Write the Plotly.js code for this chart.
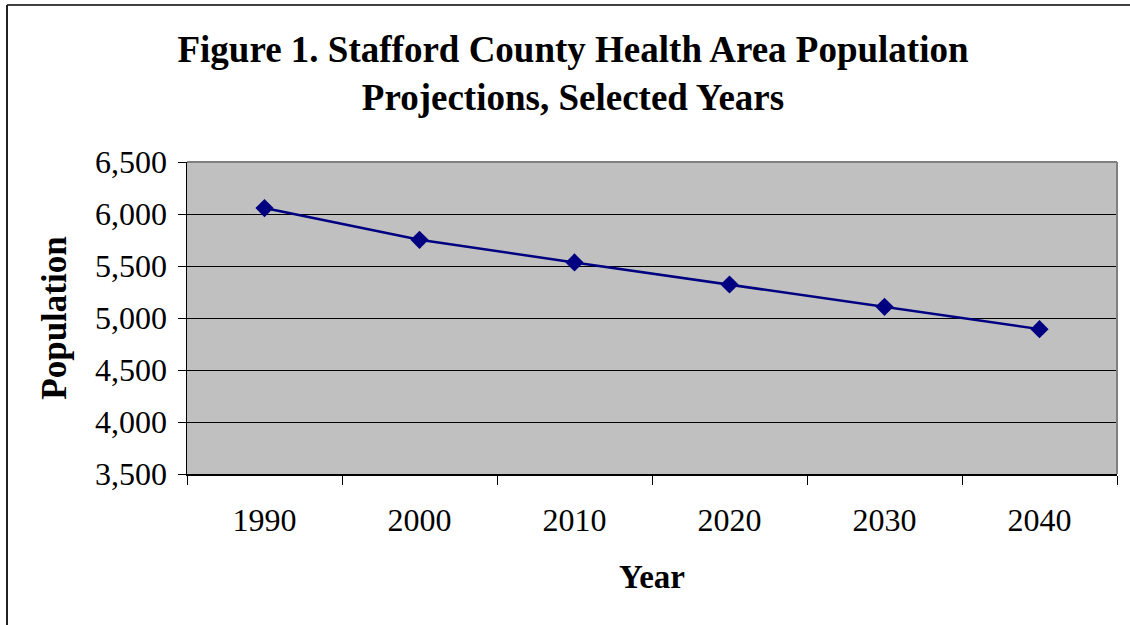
<!DOCTYPE html>
<html>
<head>
<meta charset="utf-8">
<script src="https://cdn.plot.ly/plotly-3.0.1.min.js"></script>
<style>
  html, body { margin: 0; padding: 0; background: #fff; }
  #chart { width: 1130px; height: 625px; }
</style>
</head>
<body>
<div id="chart"></div>
<script>
const years = ["1990", "2000", "2010", "2020", "2030", "2040"];
const population = [6057, 5752, 5534, 5322, 5107, 4893];
const yTickVals = [3500, 4000, 4500, 5000, 5500, 6000, 6500];
const yTickText = ["3,500", "4,000", "4,500", "5,000", "5,500", "6,000", "6,500"];

const W = 1130, H = 625;
const L = 187, R = 1117, T = 162, B = 474;
const px = v => (v - L) / (R - L);
const py = v => (B - v) / (B - T);

const serif = "Liberation Serif, Times New Roman, serif";

const trace = {
  type: "scatter",
  mode: "lines+markers",
  x: years,
  y: population,
  line: { color: "#000080", width: 2.5 },
  marker: { symbol: "diamond", size: 14, color: "#000080" },
  hoverinfo: "x+y"
};

const layout = {
  width: W,
  height: H,
  paper_bgcolor: "#ffffff",
  plot_bgcolor: "#c0c0c0",
  showlegend: false,
  margin: { l: L, r: W - R, t: T, b: H - B, pad: 0 },
  font: { family: serif, color: "#000000", size: 32 },
  title: {
    text: "<b>Figure 1. Stafford County Health Area Population<br>Projections, Selected Years</b>",
    font: { family: serif, size: 37, color: "#000000" },
    xref: "container", yref: "container",
    x: 573 / W, xanchor: "center",
    y: 1 - 62 / H, yanchor: "middle"
  },
  xaxis: {
    type: "category",
    range: [-0.5, 5.5],
    tickson: "boundaries",
    ticks: "outside",
    ticklen: 9,
    tickwidth: 1,
    tickcolor: "#000000",
    showline: true,
    linecolor: "#000000",
    linewidth: 1.5,
    showgrid: false,
    zeroline: false,
    tickfont: { family: serif, size: 32, color: "#000000" },
    ticklabelstandoff: 17,
    title: { text: "<b>Year</b>", font: { family: serif, size: 33, color: "#000000" }, standoff: 28 }
  },
  yaxis: {
    range: [3500, 6500],
    tickvals: yTickVals,
    ticktext: yTickText,
    ticks: "outside",
    ticklen: 8,
    tickwidth: 1,
    tickcolor: "#000000",
    showline: true,
    linecolor: "#000000",
    linewidth: 1.5,
    showgrid: true,
    gridcolor: "#000000",
    gridwidth: 1,
    zeroline: false,
    tickfont: { family: serif, size: 32, color: "#000000" },
    ticklabelstandoff: 4,
    title: { text: "<b>Population</b>", font: { family: serif, size: 35, color: "#000000" }, standoff: 18 }
  },
  shapes: [
    { type: "line", xref: "paper", yref: "paper", x0: 0, x1: 1, y0: 1, y1: 1,
      line: { color: "#808080", width: 2 }, layer: "above" },
    { type: "line", xref: "paper", yref: "paper", x0: 1, x1: 1, y0: 0, y1: 1,
      line: { color: "#808080", width: 2 }, layer: "above" },
    { type: "line", xref: "paper", yref: "paper", x0: px(7), x1: px(1130), y0: py(5), y1: py(5),
      line: { color: "#000000", width: 1.5 } },
    { type: "line", xref: "paper", yref: "paper", x0: px(7), x1: px(7), y0: py(5), y1: py(625),
      line: { color: "#222222", width: 2 } }
  ]
};

Plotly.newPlot("chart", [trace], layout, { displayModeBar: false, staticPlot: true });
</script>
</body>
</html>
